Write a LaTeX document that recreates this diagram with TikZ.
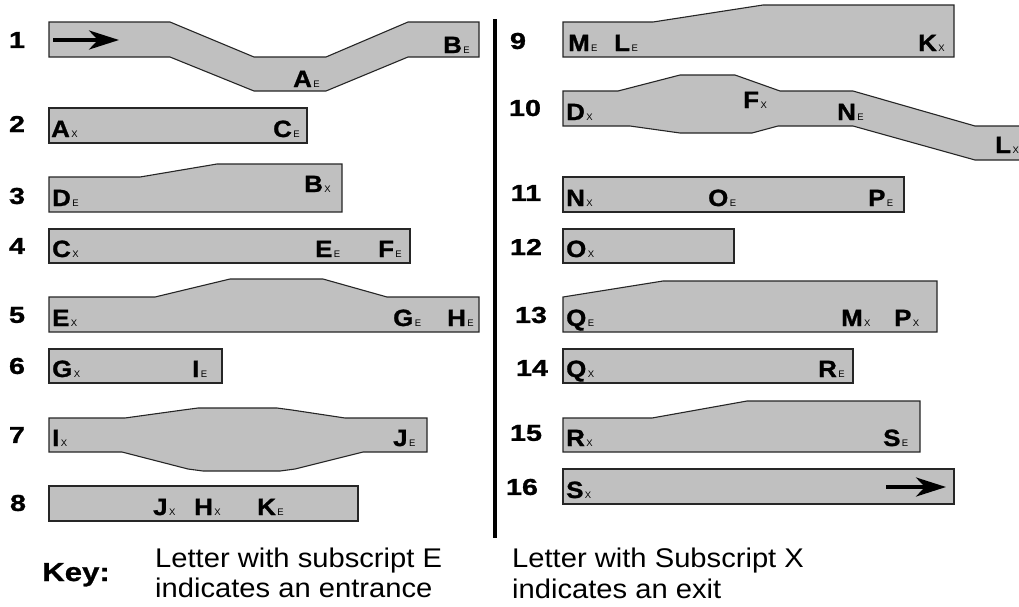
\documentclass[tikz,border=0pt]{standalone}
\usepackage{fontspec}
\setmainfont{Liberation Sans}
\newfontfamily\lblfont[FakeStretch=1.1,FakeBold=1.2]{Liberation Sans Bold}
\newfontfamily\numfont[FakeStretch=1.25,FakeBold=1.2]{Liberation Sans Bold}
\newfontfamily\keyfont[FakeStretch=1.08]{Liberation Sans}
\newfontfamily\keybfont[FakeStretch=1.2,FakeBold=1]{Liberation Sans Bold}
\usetikzlibrary{arrows.meta}
\definecolor{shgray}{RGB}{192,192,192}
\newcommand{\Lt}[2]{{\lblfont\fontsize{23.5}{23.5}\selectfont #1}\kern1.5pt{\fontsize{9.5}{9.5}\selectfont #2}}
\tikzset{
  shp/.style={fill=shgray, draw=black!85, line width=1.1pt, line join=miter},
  lab/.style={anchor=base west, inner sep=0pt},
  num/.style={anchor=center, inner sep=0pt, font=\numfont\fontsize{23}{23}\selectfont},
  keyt/.style={anchor=base west, inner sep=0pt, font=\keyfont\fontsize{27}{30}\selectfont},
  bigarrow/.style={line width=3.8pt, -{Stealth[length=30pt,width=19pt,inset=9pt]}},
}
\begin{document}
\begin{tikzpicture}[x=1pt,y=-1pt]
\useasboundingbox (0,0) rectangle (1019,606);
\fill[white] (0,0) rectangle (1019,606);
\clip (0,0) rectangle (1019,606);

% ---------- shapes, left column ----------
\draw[shp] (49,22) -- (170,22) -- (254,57) -- (326,57) -- (408,22) -- (479,22) -- (479,57) -- (408,57) -- (326,91) -- (254,91) -- (170,57) -- (49,57) -- cycle;
\draw[shp] (49,108) rectangle (307,143);
\draw[shp] (49,177) -- (140,177) -- (217,164) -- (342,164) -- (342,212) -- (49,212) -- cycle;
\draw[shp] (49,229) rectangle (410,263);
\draw[shp] (49,297) -- (155,297) -- (230,279) -- (323,279) -- (387,297) -- (479,297) -- (479,332) -- (49,332) -- cycle;
\draw[shp] (49,349) rectangle (222,383);
\draw[shp] (49,418) -- (125,418) -- (183,410) -- (198,408) -- (277,408) -- (292,410) -- (345,418) -- (427,418) -- (427,452) -- (363,452) -- (295,469) -- (280,471) -- (203,471) -- (188,469) -- (122,452) -- (49,452) -- cycle;
\draw[shp] (49,486) rectangle (358,521);

% ---------- shapes, right column ----------
\draw[shp] (563,22) -- (653,22) -- (763,5) -- (954,5) -- (954,57) -- (563,57) -- cycle;
\draw[shp] (563,91) -- (618,91) -- (680,75) -- (735,75) -- (780,91) -- (853,91) -- (975,126) -- (1030,126) -- (1030,160) -- (975,160) -- (853,126) -- (778,126) -- (752,133) -- (680,133) -- (630,126) -- (563,126) -- cycle;
\draw[shp] (563,177) rectangle (904,212);
\draw[shp] (563,229) rectangle (734,263);
\draw[shp] (563,297) -- (663,281) -- (937,281) -- (937,332) -- (563,332) -- cycle;
\draw[shp] (563,349) rectangle (853,383);
\draw[shp] (563,418) -- (652,418) -- (747,401) -- (920,401) -- (920,452) -- (563,452) -- cycle;
\draw[shp] (563,469) rectangle (954,504);

% ---------- arrows ----------
\coordinate (a1s) at (53,40);
\coordinate (a1e) at (119,40);
\draw[bigarrow] (a1s) -- (a1e);
\coordinate (a16s) at (886,487);
\coordinate (a16e) at (946,487);
\draw[bigarrow] (a16s) -- (a16e);

% ---------- divider ----------
\coordinate (dtop) at (495,19);
\coordinate (dbot) at (495,538);
\draw[line width=3.5pt] (dtop) -- (dbot);

% ---------- row numbers ----------
\node[num] (r1) at (17,40) {1};
\node[num] (r2) at (17,124) {2};
\node[num] (r3) at (17,196) {3};
\node[num] (r4) at (17,246) {4};
\node[num] (r5) at (17,315) {5};
\node[num] (r6) at (17,366) {6};
\node[num] (r7) at (17,435) {7};
\node[num] (r8) at (18,503) {8};
\node[num] (r9) at (518,41) {9};
\node[num] (r10) at (525,108) {10};
\node[num] (r11) at (526,193) {11};
\node[num] (r12) at (526,247) {12};
\node[num] (r13) at (531,315) {13};
\node[num] (r14) at (532,368) {14};
\node[num] (r15) at (526,433) {15};
\node[num] (r16) at (522,487) {16};

% ---------- labels ----------
\node[lab] (l1b) at (443,53) {\Lt{B}{E}};
\node[lab] (l1a) at (293,87) {\Lt{A}{E}};
\node[lab] (l2a) at (51,137) {\Lt{A}{X}};
\node[lab] (l2c) at (273,137) {\Lt{C}{E}};
\node[lab] (l3d) at (52,206) {\Lt{D}{E}};
\node[lab] (l3b) at (304,192) {\Lt{B}{X}};
\node[lab] (l4c) at (52,257) {\Lt{C}{X}};
\node[lab] (l4e) at (315,257) {\Lt{E}{E}};
\node[lab] (l4f) at (378,257) {\Lt{F}{E}};
\node[lab] (l5e) at (52,326) {\Lt{E}{X}};
\node[lab] (l5g) at (393,326) {\Lt{G}{E}};
\node[lab] (l5h) at (447,326) {\Lt{H}{E}};
\node[lab] (l6g) at (52,377) {\Lt{G}{X}};
\node[lab] (l6i) at (192,377) {\Lt{I}{E}};
\node[lab] (l7i) at (52,446) {\Lt{I}{X}};
\node[lab] (l7j) at (393,446) {\Lt{J}{E}};
\node[lab] (l8j) at (153,515) {\Lt{J}{X}};
\node[lab] (l8h) at (194,515) {\Lt{H}{X}};
\node[lab] (l8k) at (257,515) {\Lt{K}{E}};

\node[lab] (l9m) at (568,51) {\Lt{M}{E}};
\node[lab] (l9l) at (614,51) {\Lt{L}{E}};
\node[lab] (l9k) at (918,51) {\Lt{K}{X}};
\node[lab] (l10d) at (566,120) {\Lt{D}{X}};
\node[lab] (l10f) at (743,108) {\Lt{F}{X}};
\node[lab] (l10n) at (837,120) {\Lt{N}{E}};
\node[lab] (l10l) at (995,153) {\Lt{L}{X}};
\node[lab] (l11n) at (566,206) {\Lt{N}{X}};
\node[lab] (l11o) at (708,206) {\Lt{O}{E}};
\node[lab] (l11p) at (868,206) {\Lt{P}{E}};
\node[lab] (l12o) at (566,257) {\Lt{O}{X}};
\node[lab] (l13q) at (566,326) {\Lt{Q}{E}};
\node[lab] (l13m) at (841,326) {\Lt{M}{X}};
\node[lab] (l13p) at (894,326) {\Lt{P}{X}};
\node[lab] (l14q) at (566,377) {\Lt{Q}{X}};
\node[lab] (l14r) at (818,377) {\Lt{R}{E}};
\node[lab] (l15r) at (566,446) {\Lt{R}{X}};
\node[lab] (l15s) at (883,446) {\Lt{S}{E}};
\node[lab] (l16s) at (566,498) {\Lt{S}{X}};

% ---------- key ----------
\node[anchor=base west, inner sep=0pt, font=\keybfont\fontsize{26}{26}\selectfont] (key) at (42,581) {Key:};
\node[keyt] (k1a) at (155,567) {Letter with subscript E};
\node[keyt] (k1b) at (155,597) {indicates an entrance};
\node[keyt] (k2a) at (512,567) {Letter with Subscript X};
\node[keyt] (k2b) at (512,598) {indicates an exit};
\end{tikzpicture}
\end{document}
